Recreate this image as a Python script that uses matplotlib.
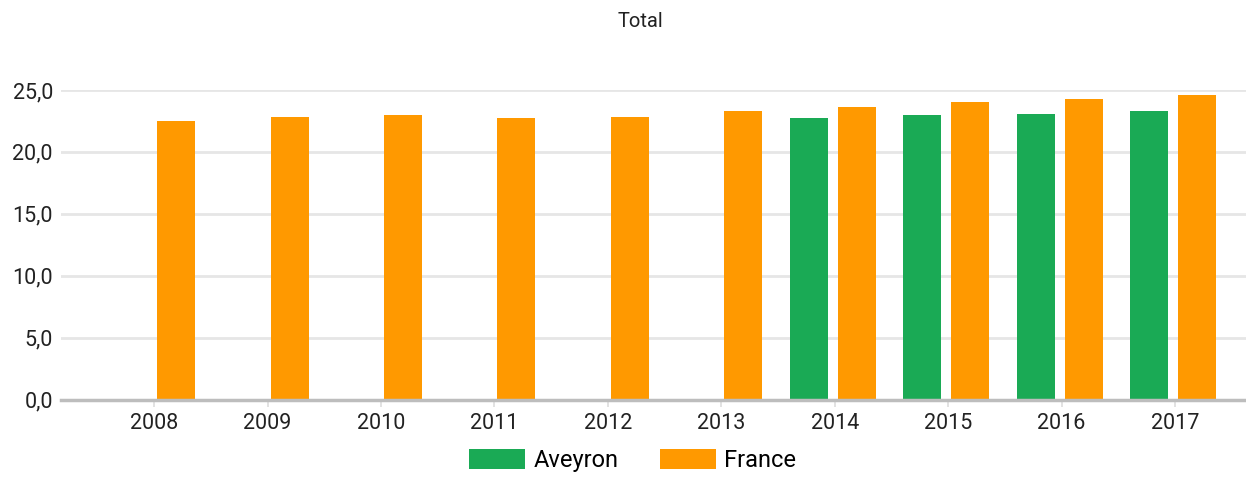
import numpy as np
import matplotlib.pyplot as plt
from matplotlib.ticker import FuncFormatter

plt.rcParams['font.family'] = ['Roboto', 'DejaVu Sans']

years = ['2008', '2009', '2010', '2011', '2012', '2013', '2014', '2015', '2016', '2017']
aveyron = [None, None, None, None, None, None, 22.7, 23.0, 23.1, 23.3]
france = [22.5, 22.8, 23.0, 22.7, 22.8, 23.3, 23.6, 24.0, 24.3, 24.6]

green = '#1aaa55'
orange = '#ff9900'

fig = plt.figure(figsize=(12.46, 4.78), dpi=100)
ax = fig.add_axes([0.049, 0.1642, 0.951, 0.6475])

x = np.arange(len(years))
width = 0.335
av_x = np.array([i for i, v in zip(x, aveyron) if v is not None])
av_y = [v for v in aveyron if v is not None]
ax.bar(av_x - 0.229, av_y, width, color=green, label='Aveyron', zorder=3)
ax.bar(x + 0.194, france, width, color=orange, label='France', zorder=3)

ax.set_xlim(-0.82, 9.626)
ax.set_ylim(0, 25)
ax.set_yticks(np.arange(0, 26, 5))
ax.yaxis.set_major_formatter(FuncFormatter(lambda v, p: f'{v:.1f}'.replace('.', ',')))
ax.set_xticks(x)
ax.set_xticklabels(years)

# light horizontal grid, grey baseline on top of the bars
ax.grid(axis='y', color='#e6e6e6', linewidth=2, zorder=0)
ax.set_axisbelow(True)
for s in ['top', 'right', 'left']:
    ax.spines[s].set_visible(False)
ax.spines['bottom'].set_color('#bdbdbd')
ax.spines['bottom'].set_linewidth(2.5)
ax.spines['bottom'].set_zorder(4)
ax.tick_params(axis='y', length=0, labelsize=15.5, pad=5.8, labelcolor='#222222')
ax.tick_params(axis='x', length=5, color='#dddddd', width=1.2, labelsize=15.5,
               pad=5, labelcolor='#222222')

fig.text(0.514, 0.956, 'Total', ha='center', va='center', fontsize=14.5, color='#222222')

fig.legend(*ax.get_legend_handles_labels(), loc='center', bbox_to_anchor=(0.508, 0.036),
           ncol=2, frameon=False, fontsize=17, handlelength=2.37, handleheight=0.89,
           columnspacing=1.78, handletextpad=0.34, borderpad=0)

fig.savefig('out.png', dpi=100)
